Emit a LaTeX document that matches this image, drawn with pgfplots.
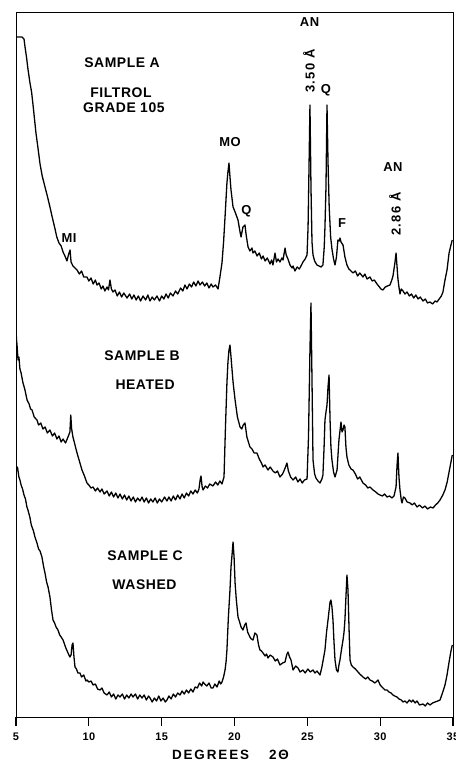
\documentclass[border=0pt]{standalone}
\usepackage{fontspec}
\setmainfont{Liberation Sans}
\newfontfamily\lab[LetterSpace=4]{Liberation Sans}
\newfontfamily\rlab[LetterSpace=10]{Liberation Sans}
\newfontfamily\dlab[LetterSpace=14]{Liberation Sans}
\usepackage{pgfplots}
\pgfplotsset{compat=1.18}
\tikzset{trace/.style={black, no markers, line width=1.3pt, line join=round}}
\begin{document}
\begin{tikzpicture}
\begin{axis}[
  width=437bp, height=705bp, scale only axis,
  xmin=5, xmax=35, ymin=0, ymax=705,
  xtick={5,10,15,20,25,30,35}, ytick=\empty,
  tick align=outside, xtick pos=bottom,
  major tick length=9bp,
  axis line style={line width=0.8pt},
  every tick/.style={black, line width=1.3pt},
  /pgf/number format/assume math mode=true,
  xticklabel style={font=\lab\bfseries\fontsize{11}{13}\selectfont, yshift=-3bp},
  clip mode=individual,
  xlabel={DEGREES\hspace{20bp}2Θ},
  xlabel style={font=\dlab\bfseries\fontsize{13.5}{15}\selectfont, inner sep=0pt, yshift=-6bp, xshift=-4bp},
]
% Sample A
\addplot[trace] coordinates {
(5.00,680) (5.41,680) (5.55,678) (5.62,670) (5.72,660) (5.82,648) (5.96,634) (6.07,625) (6.17,612) (6.27,598) (6.37,584) (6.5,570) (6.65,553) (6.8,541) (6.99,530) (7.15,521) (7.33,510) (7.5,499) (7.68,488) (7.8,480) (7.95,474) (8.1,471) (8.23,465) (8.36,461) (8.5,456) (8.6,462) (8.71,467) (8.78,455) (8.91,451) (9.05,449)
(9.19,447) (9.35,443) (9.5,446) (9.65,440) (9.87,440) (10.0,436) (10.15,439) (10.3,433) (10.45,437) (10.56,432) (10.7,434) (10.85,428) (10.97,431) (11.1,426) (11.25,430) (11.35,427) (11.45,437) (11.55,428) (11.66,425) (11.8,427) (11.95,421) (12.1,425) (12.25,420) (12.4,424) (12.62,419) (12.8,423) (12.95,418) (13.1,422) (13.25,417) (13.4,421) (13.55,416) (13.72,421) (13.9,417) (14.05,422) (14.2,416) (14.35,420) (14.5,417) (14.68,421) (14.85,416) (15.0,421) (15.15,418) (15.3,423) (15.45,419) (15.6,424) (15.78,421) (15.95,426) (16.1,423) (16.3,429) (16.45,426) (16.6,432) (16.74,428) (16.9,433) (17.05,430) (17.2,435) (17.35,431) (17.5,436) (17.63,432) (17.8,435) (17.95,431) (18.1,434) (18.25,429) (18.4,433) (18.52,430) (18.7,432) (18.87,428)
(19.0,440) (19.14,454) (19.25,475) (19.35,500) (19.48,534) (19.55,545) (19.62,554) (19.69,540) (19.76,527) (19.9,510) (20.04,505) (20.24,497) (20.38,485) (20.45,480) (20.58,490) (20.72,492) (20.8,482) (20.93,470) (21.06,466) (21.2,469) (21.27,464) (21.4,466) (21.55,461) (21.7,464) (21.85,458) (21.96,461) (22.1,456) (22.25,459) (22.44,453) (22.55,457) (22.64,452) (22.78,464) (22.88,455) (22.99,458) (23.12,455) (23.25,459) (23.33,457) (23.47,469) (23.55,462) (23.67,458) (23.81,452) (23.95,449) (24.02,451) (24.15,446) (24.3,450) (24.45,448) (24.6,452) (24.70,455) (24.85,458) (24.98,462)
(25.05,490) (25.11,545) (25.18,612) (25.25,530) (25.32,475) (25.39,462) (25.5,456) (25.66,452) (25.8,451) (25.95,450) (26.07,452) (26.16,470) (26.21,490) (26.28,530) (26.35,612) (26.42,555) (26.5,510) (26.6,480) (26.69,468) (26.8,458) (26.9,452) (27.0,460) (27.10,477) (27.2,476) (27.24,479) (27.31,475) (27.45,472) (27.58,460) (27.72,452) (27.85,448) (28.0,446) (28.13,444) (28.3,446) (28.45,441) (28.6,444) (28.82,440) (28.95,443) (29.1,438) (29.30,440) (29.45,436) (29.6,437) (29.78,433) (29.95,430) (30.05,428) (30.19,427) (30.35,430) (30.5,431) (30.67,432) (30.8,437) (30.88,441) (30.95,448) (31.02,455) (31.09,464) (31.15,452) (31.22,438) (31.29,430) (31.36,423) (31.45,428) (31.57,426) (31.7,423) (31.85,425) (32.0,421) (32.15,423) (32.3,419) (32.45,422) (32.6,418) (32.75,420) (32.94,416) (33.1,418) (33.25,414) (33.42,415) (33.6,413) (33.77,416) (33.9,415) (34.05,418) (34.2,421) (34.31,425) (34.45,437) (34.59,447) (34.73,464) (34.86,472) (34.95,477)
};
% Sample B
\addplot[trace] coordinates {
(5.0,390) (5.03,378) (5.07,372) (5.14,357) (5.2,360) (5.27,348) (5.35,344) (5.48,334) (5.6,328) (5.76,317) (5.9,313) (6.0,308) (6.10,307) (6.25,300) (6.44,297) (6.55,292) (6.7,294) (6.85,288) (7.0,290) (7.15,284) (7.33,287) (7.5,281) (7.65,284) (7.81,278) (7.95,281) (8.1,275) (8.23,278) (8.4,274) (8.57,280) (8.7,285) (8.76,302) (8.82,288) (8.91,280) (9.05,272) (9.19,264) (9.35,256) (9.53,247) (9.7,241) (9.87,234) (10.0,232) (10.15,229) (10.29,230) (10.45,226) (10.6,229) (10.77,225) (10.9,228) (11.05,223) (11.25,226) (11.4,221) (11.55,225) (11.7,220) (11.85,224) (12.0,219) (12.14,223) (12.3,218) (12.45,222) (12.6,217) (12.75,221) (12.9,216) (13.05,220) (13.2,215) (13.35,219) (13.51,216) (13.65,220) (13.8,215) (13.95,219) (14.1,214) (14.25,218) (14.40,215) (14.55,219) (14.7,214) (14.85,218) (15.0,215) (15.2,220) (15.36,216) (15.5,220) (15.65,216) (15.8,221) (15.95,217) (16.1,222) (16.26,218) (16.4,223) (16.55,219) (16.7,224) (16.85,221) (17.0,226) (17.15,223) (17.3,227) (17.45,224) (17.56,228) (17.65,238) (17.70,241) (17.78,230) (17.84,227) (18.0,231) (18.15,229) (18.3,233) (18.52,231) (18.7,235) (18.85,232) (19.0,236) (19.14,233) (19.28,240)
(19.38,290) (19.48,334) (19.55,355) (19.62,367) (19.69,372) (19.76,360) (19.9,335) (20.04,317) (20.2,300) (20.38,290) (20.5,288) (20.6,292) (20.72,294) (20.85,280) (21.06,270) (21.2,268) (21.35,264) (21.54,264) (21.7,258) (21.85,254) (21.96,250) (22.1,252) (22.3,247) (22.45,250) (22.64,246) (22.8,244) (22.95,246) (23.12,240) (23.3,243) (23.45,248) (23.60,254) (23.7,246) (23.85,240) (24.02,237) (24.2,240) (24.35,235) (24.5,238) (24.65,234) (24.8,237) (24.98,238)
(25.08,280) (25.18,367) (25.25,414) (25.32,337) (25.39,257) (25.5,243) (25.59,239) (25.73,236) (25.87,234) (26.0,238) (26.07,242) (26.15,270) (26.21,297) (26.28,305) (26.35,312) (26.42,330) (26.49,342) (26.56,297) (26.62,270) (26.69,257) (26.8,245) (26.90,240) (27.04,247) (27.17,277) (27.31,295) (27.38,285) (27.45,287) (27.52,292) (27.58,290) (27.65,270) (27.72,260) (27.85,252) (28.0,248) (28.13,247) (28.3,243) (28.45,238) (28.6,240) (28.82,234) (29.0,232) (29.15,229) (29.3,230) (29.51,227) (29.7,225) (29.85,223) (29.99,222) (30.15,221) (30.3,223) (30.47,220) (30.65,221) (30.8,219) (30.95,221) (31.09,230) (31.16,252) (31.22,264) (31.29,240) (31.36,227) (31.45,217) (31.50,214) (31.6,220) (31.70,219) (31.85,215) (32.05,214) (32.2,212) (32.35,214) (32.53,210) (32.7,212) (32.9,209) (33.08,211) (33.25,208) (33.45,210) (33.63,209) (33.8,212) (33.95,214) (34.11,217) (34.3,222) (34.45,227) (34.6,235) (34.73,245) (34.86,255) (34.95,262)
};
% Sample C
\addplot[trace] coordinates {
(5.0,254) (5.04,247) (5.1,250) (5.2,240) (5.27,237) (5.35,232) (5.45,228) (5.55,222) (5.65,218) (5.75,210) (5.82,207) (5.95,200) (6.05,192) (6.10,190) (6.2,186) (6.3,180) (6.44,174) (6.55,168) (6.65,166) (6.78,160) (6.9,150) (6.99,144) (7.1,135) (7.2,130) (7.33,120) (7.43,108) (7.54,97) (7.65,94) (7.75,90) (7.88,87) (8.0,82) (8.1,80) (8.23,77) (8.35,72) (8.45,68) (8.57,64) (8.7,60) (8.78,62) (8.85,72) (8.91,74) (8.98,60) (9.05,50) (9.15,48) (9.25,44) (9.39,44) (9.5,40) (9.65,42) (9.8,36) (9.87,37) (10.0,35) (10.15,36) (10.29,32) (10.45,33) (10.6,28) (10.77,27) (10.9,29) (11.05,24) (11.25,22) (11.4,25) (11.55,20) (11.7,23) (11.85,18) (12.0,22) (12.14,20) (12.3,23) (12.45,18) (12.6,22) (12.75,19) (12.9,23) (13.03,20) (13.2,23) (13.35,18) (13.5,22) (13.65,19) (13.8,22) (13.95,17) (14.1,21) (14.2,19) (14.35,15) (14.5,19) (14.65,16) (14.8,21) (14.95,16) (15.1,19) (15.25,15) (15.36,17) (15.5,21) (15.65,18) (15.8,23) (15.95,20) (16.1,24) (16.26,22) (16.4,26) (16.55,23) (16.7,27) (16.85,24) (17.0,28) (17.15,25) (17.3,30) (17.45,29) (17.6,34) (17.75,31) (17.84,35) (17.95,33) (18.1,31) (18.25,34) (18.4,29) (18.52,29) (18.65,33) (18.8,30) (18.95,36) (19.05,33) (19.14,35) (19.25,40) (19.35,47) (19.42,55) (19.48,67)
(19.58,100) (19.69,127) (19.76,150) (19.83,162) (19.90,175) (19.97,160) (20.04,134) (20.12,118) (20.24,100) (20.35,95) (20.45,90) (20.58,87) (20.7,92) (20.79,94) (20.9,85) (21.06,80) (21.15,78) (21.27,77) (21.4,84) (21.54,82) (21.65,72) (21.75,67) (21.85,66) (21.96,64) (22.1,61) (22.2,63) (22.30,59) (22.45,62) (22.64,60) (22.8,56) (22.95,58) (23.12,52) (23.3,54) (23.47,55) (23.58,62) (23.67,65) (23.78,60) (23.88,57) (24.02,47) (24.2,51) (24.36,49) (24.5,45) (24.70,47) (24.85,44) (25.04,48) (25.2,45) (25.39,47) (25.52,44) (25.66,46) (25.87,42) (26.0,50) (26.1,58) (26.21,67) (26.32,85) (26.42,97) (26.56,115) (26.62,117) (26.69,110) (26.76,97) (26.83,75) (26.90,57) (27.0,47) (27.10,45) (27.17,52) (27.24,57) (27.35,68) (27.45,77) (27.52,85) (27.58,97) (27.65,120) (27.72,142) (27.79,127) (27.86,90) (27.93,57) (28.02,52) (28.13,50) (28.3,48) (28.48,45) (28.6,43) (28.82,40) (29.0,38) (29.15,40) (29.30,37) (29.45,36) (29.64,34) (29.85,37) (30.0,32) (30.19,29) (30.33,27) (30.47,27) (30.6,25) (30.75,24) (30.88,22) (31.0,21) (31.15,20) (31.3,18) (31.45,17) (31.57,15) (31.7,16) (31.84,14) (32.0,17) (32.15,15) (32.25,17) (32.4,14) (32.53,16) (32.7,12) (32.94,13) (33.1,11) (33.25,14) (33.42,12) (33.6,14) (33.77,15) (33.95,16) (34.11,17) (34.3,25) (34.45,32) (34.59,42) (34.73,55) (34.86,66) (34.95,72)
};
% annotations
\begin{scope}[every node/.style={font=\lab\bfseries\fontsize{13}{15}\selectfont, inner sep=0pt}]
\node at (axis cs:25.15,694.5) {AN};
\node[rotate=90, font=\rlab\bfseries\fontsize{13}{15}\selectfont] at (axis cs:25.11,646) {3.50~Å};
\node at (axis cs:26.28,627) {Q};
\node at (axis cs:19.69,575) {MO};
\node at (axis cs:20.82,505.5) {Q};
\node at (axis cs:27.38,494) {F};
\node at (axis cs:30.88,550) {AN};
\node[rotate=90, font=\rlab\bfseries\fontsize{13}{15}\selectfont] at (axis cs:31.02,503) {2.86~Å};
\node at (axis cs:8.64,479) {MI};
\end{scope}
\begin{scope}[every node/.style={font=\lab\bfseries\fontsize{14}{16}\selectfont, inner sep=0pt}]
\node at (axis cs:12.28,654) {SAMPLE A};
\node at (axis cs:12.21,624) {FILTROL};
\node at (axis cs:12.41,609) {GRADE 105};
\node at (axis cs:13.65,361) {SAMPLE B};
\node at (axis cs:13.86,332) {HEATED};
\node at (axis cs:13.86,161) {SAMPLE C};
\node at (axis cs:13.82,132) {WASHED};
\end{scope}
\end{axis}
\pgfresetboundingbox
\path (current axis.south west) ++(-16bp,-48bp) rectangle ++(456bp,765bp);
\end{tikzpicture}
\end{document}
